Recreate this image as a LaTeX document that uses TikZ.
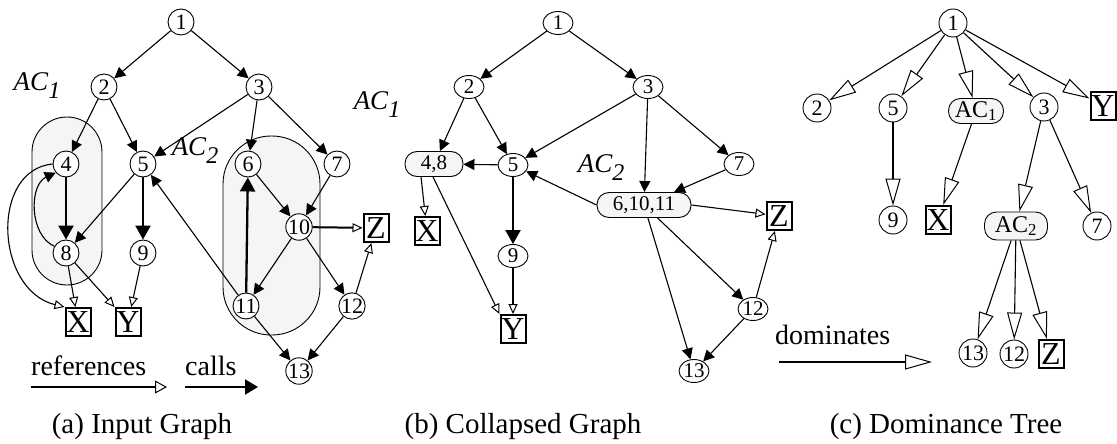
\documentclass[tikz,border=0pt]{standalone}
\usepackage{fontspec}
\setmainfont{Liberation Serif}
\usetikzlibrary{arrows.meta,shapes.geometric}

\tikzset{
  proc/.style={circle,draw,line width=0.9pt,fill=white,inner sep=0pt,minimum size=26pt,font=\fontsize{22}{22}\selectfont},
  procb/.style={ellipse,draw,line width=0.9pt,fill=white,inner sep=0pt,minimum width=30pt,minimum height=23pt,font=\fontsize{21}{21}\selectfont},
  var/.style={draw,line width=2pt,fill=white,inner sep=0pt,minimum width=25pt,minimum height=28pt,font=\fontsize{32}{32}\selectfont},
  grp/.style={draw,line width=0.9pt,fill=black!4,rounded corners=12pt,inner sep=0pt,minimum height=25pt,font=\fontsize{21}{21}\selectfont},
  calls/.style={line width=1.1pt,-{Triangle[length=11pt,width=11pt]}},
  thickcalls/.style={line width=2.3pt,-{Triangle[length=14pt,width=15pt]}},
  refs/.style={line width=1.1pt,-{Triangle[open,length=10pt,width=9pt,line width=1pt]}},
  dom/.style={line width=1.1pt,-{Triangle[open,length=27pt,width=15pt,line width=1pt]}},
  aclabel/.style={font=\fontsize{27}{27}\selectfont\itshape},
  legend/.style={font=\fontsize{28}{28}\selectfont,anchor=base west,inner sep=0pt},
  caption/.style={font=\fontsize{29}{29}\selectfont,anchor=base,inner sep=0pt}
}

\newcommand{\acsub}[1]{AC\raisebox{-0.3em}{\fontsize{24}{24}\selectfont #1}}

\begin{document}
\begin{tikzpicture}[x=1pt,y=-1pt]
\useasboundingbox (0,0) rectangle (1117,444);

% (a) input graph
\draw[line width=0.9pt,fill=black!4,rounded corners=35pt] (32,117) rectangle (102,285);
\draw[line width=0.9pt,fill=black!4,rounded corners=48pt] (223,136) rectangle (320,335);

\node[proc] (a1) at (181,22) {1};
\node[proc] (a2) at (104,87) {2};
\node[proc] (a3) at (259,87) {3};
\node[proc] (a4) at (66,164) {4};
\node[proc] (a5) at (143,164) {5};
\node[proc] (a6) at (248,164) {6};
\node[proc] (a7) at (337,164) {7};
\node[proc] (a8) at (66,253) {8};
\node[proc] (a9) at (143,253) {9};
\node[proc] (a10) at (299,227) {10};
\node[proc] (a11) at (246,306) {11};
\node[proc] (a12) at (352,306) {12};
\node[proc] (a13) at (299,371) {13};
\node[var] (ax) at (78,322) {X};
\node[var] (ay) at (128,322) {Y};
\node[var] (az) at (376,228) {Z};
\node[aclabel] (ac1a) at (37,86) {\acsub{1}};
\node[aclabel] (ac2a) at (195,151) {\acsub{2}};

\foreach \u/\v in {a1/a2,a1/a3,a2/a4,a2/a5,a3/a5,a3/a6,a3/a7,a5/a8,a11/a5,a6/a10,a7/a10,a10/a11,a10/a12,a11/a13,a12/a13}
  \draw[calls] (\u) -- (\v);
\foreach \u/\v in {a4/a8,a5/a9,a11/a6}
  \draw[thickcalls] (\u) -- (\v);
\draw[calls] (a8.150) .. controls (29,235) and (29,185) .. (a4.220);
\foreach \u/\v in {a8/ax,a8/ay,a9/ay,a12/az}
  \draw[refs] (\u) -- (\v);
\draw[refs] (a4.west) .. controls (-10,170) and (-5,290) .. (ax.north west);
\draw[refs,line width=2pt] (a10) -- (az);

\node[legend] (refstext) at (31,375) {references};
\coordinate (refs0) at (31,387);
\coordinate (refs1) at (167,387);
\draw[line width=2pt,-{Triangle[open,length=12pt,width=13pt,line width=1pt]}] (refs0) -- (refs1);
\node[legend] (callstext) at (185,375) {calls};
\coordinate (calls0) at (185,387);
\coordinate (calls1) at (258,387);
\draw[line width=2pt,-{Triangle[length=13pt,width=15pt]}] (calls0) -- (calls1);

\node[caption] (capa) at (142,433) {(a) Input Graph};

% (b) collapsed graph
\node[procb] (b1) at (558,23) {1};
\node[procb] (b2) at (469,87) {2};
\node[procb] (b3) at (648,87) {3};
\node[grp,minimum width=58pt] (b48) at (434,164) {4,8};
\node[procb] (b5) at (513,165) {5};
\node[procb] (b7) at (739,164) {7};
\node[grp,minimum width=94pt] (b61011) at (644,205) {6,10,11};
\node[procb] (b9) at (513,256) {9};
\node[procb] (b12) at (753,309) {12};
\node[procb] (b13) at (694,371) {13};
\node[var] (bx) at (427,231) {X};
\node[var] (by) at (513,329) {Y};
\node[var] (bz) at (779,216) {Z};
\node[aclabel] (ac1b) at (377,105) {\acsub{1}};
\node[aclabel] (ac2b) at (601,168) {\acsub{2}};

\foreach \u/\v in {b1/b2,b1/b3,b2/b48,b2/b5,b3/b5,b3/b61011,b3/b7,b5/b48,b7/b61011,b61011/b12,b61011/b13,b12/b13}
  \draw[calls] (\u) -- (\v);
\draw[calls] (b61011.west) -- (b5);
\draw[thickcalls] (b5) -- (b9);
\draw[refs] ([xshift=-13pt]b48.south) -- (bx);
\draw[refs] ([xshift=-1pt]b48.south) -- (by.north west);
\draw[refs] (b9) -- (by);
\draw[refs] (b61011.east) -- (bz);
\draw[refs] (b12) -- (bz);

\node[caption] (capb) at (523,433) {(b) Collapsed Graph};

% (c) dominance tree
\node[proc,minimum size=28pt] (c1) at (953,23) {1};
\node[proc,minimum size=28pt] (c2) at (817,108) {2};
\node[proc,minimum size=28pt] (c5) at (893,108) {5};
\node[grp,minimum width=55pt,font=\fontsize{24}{24}\selectfont] (cac1) at (976,111) {AC\textsubscript{1}};
\node[proc,minimum size=28pt] (c3) at (1044,107) {3};
\node[var] (cy) at (1103,106) {Y};
\node[proc,minimum size=28pt] (c9) at (893,220) {9};
\node[var] (cx) at (938,220) {X};
\node[grp,minimum width=63pt,minimum height=28pt,font=\fontsize{24}{24}\selectfont] (cac2) at (1016,226) {AC\textsubscript{2}};
\node[proc,minimum size=28pt] (c7) at (1097,226) {7};
\node[proc,minimum size=28pt] (c13) at (973,353) {13};
\node[proc,minimum size=28pt] (c12) at (1014,354) {12};
\node[var] (cz) at (1051,354) {Z};

\foreach \u/\v in {c1/c2,c1/c5,c1/cac1,c1/c3,c1/cy,c5/c9,cac1/cx,c3/cac2,c3/c7,cac2/c13,cac2/c12,cac2/cz}
  \draw[dom] (\u) -- (\v);

\node[legend] (domtext) at (775,344) {dominates};
\coordinate (dom0) at (779,362);
\coordinate (dom1) at (932,362);
\draw[dom,line width=2pt] (dom0) -- (dom1);

\node[caption] (capc) at (946,433) {(c) Dominance Tree};
\end{tikzpicture}
\end{document}
